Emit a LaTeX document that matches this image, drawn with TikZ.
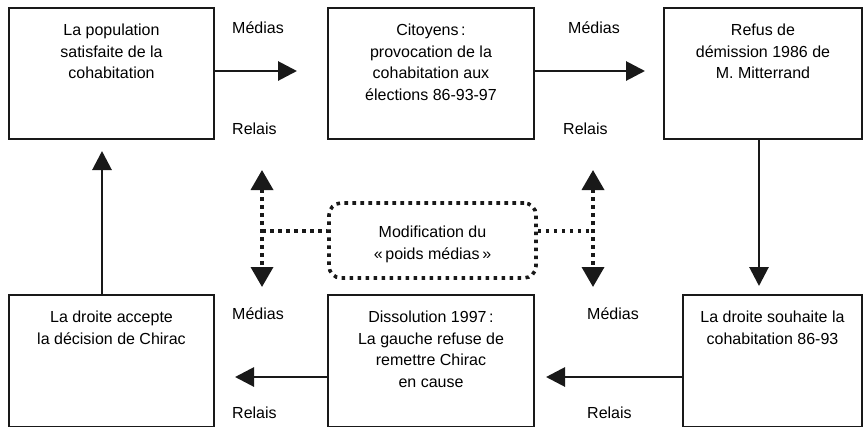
\documentclass[tikz,border=0pt]{standalone}
\usepackage{fontspec}
\setmainfont{Liberation Sans}
\usetikzlibrary{arrows.meta}
\tikzset{
  box/.style={draw=black!90, line width=2.9pt, rectangle, inner sep=0pt},
  boxtext/.style={anchor=north, align=center, inner sep=0pt, font=\fontsize{16}{21.5}\selectfont},
  lbl/.style={anchor=base west, inner sep=0pt, font=\fontsize{16}{19}\selectfont},
  arr/.style={line width=2.9pt, draw=black!90, -{Triangle[length=19pt,width=19pt]}},
  dotline/.style={line width=3.6pt, draw=black!90, dash pattern=on 3.6pt off 4.4pt},
  dotarr/.style={dotline, {Triangle[length=20pt,width=22pt]}-{Triangle[length=20pt,width=22pt]}, shorten <=0pt, shorten >=0pt}
}
\begin{document}
\begin{tikzpicture}[x=1pt,y=-1pt]
\useasboundingbox (0,0) rectangle (864,426);
% top row boxes
\node[box, minimum width=205pt, minimum height=131pt] (b1) at (111.5,73.5) {};
\node[box, minimum width=206pt, minimum height=131pt] (b2) at (431,73.5) {};
\node[box, minimum width=198pt, minimum height=131pt] (b3) at (763,73.5) {};
% bottom row boxes
\node[box, minimum width=205pt, minimum height=132pt] (b4) at (111.5,361) {};
\node[box, minimum width=206pt, minimum height=132pt] (b5) at (431,361) {};
\node[box, minimum width=179pt, minimum height=132pt] (b6) at (772.5,361) {};
% texts
\node[boxtext] (t1) at (111.5,24) {La population\\satisfaite de la\\cohabitation};
\node[boxtext] (t2) at (431,24) {Citoyens\,:\\provocation de la\\cohabitation aux\\élections 86-93-97};
\node[boxtext] (t3) at (763,24) {Refus de\\démission 1986 de\\M. Mitterrand};
\node[boxtext] (t4) at (111.5,311) {La droite accepte\\la décision de Chirac};
\node[boxtext] (t5) at (431,311) {Dissolution 1997\,:\\La gauche refuse de\\remettre Chirac\\en cause};
\node[boxtext] (t6) at (772.5,311) {La droite souhaite la\\cohabitation 86-93};
% labels
\node[lbl] (m1) at (232,33) {Médias};
\node[lbl] (r1) at (232,134) {Relais};
\node[lbl] (m2) at (568,33) {Médias};
\node[lbl] (r2) at (563,134) {Relais};
\node[lbl] (m3) at (232,319) {Médias};
\node[lbl] (r3) at (232,418) {Relais};
\node[lbl] (m4) at (587,319) {Médias};
\node[lbl] (r4) at (587,418) {Relais};
% arrow endpoints
\coordinate (e1) at (297,71);
\coordinate (e2) at (645,71);
\coordinate (e3) at (759,286);
\coordinate (e4) at (546,377);
\coordinate (e5) at (235,377);
\coordinate (e6) at (102,151);
\draw[arr] (b1.east |- e1) -- (e1);
\draw[arr] (b2.east |- e2) -- (e2);
\draw[arr] (b3.south -| e3) -- (e3);
\draw[arr] (b6.west |- e4) -- (e4);
\draw[arr] (b5.west |- e5) -- (e5);
\draw[arr] (b4.north -| e6) -- (e6);
% dotted box and arrows
\node[dotline, draw, rounded corners=12pt, minimum width=207pt, minimum height=75pt, inner sep=0pt] (mod) at (432.5,240.5) {};
\node[boxtext] (tm) at (432.5,226) {Modification du\\«\,poids médias\,»};
\coordinate (dl1) at (262,170);
\coordinate (dl2) at (262,287);
\coordinate (dr1) at (593,170);
\coordinate (dr2) at (593,287);
\draw[dotarr] (dl1) -- (dl2);
\draw[dotarr] (dr1) -- (dr2);
\coordinate (hl) at (262,231);
\coordinate (hr) at (593,231);
\draw[dotline] (hl) -- (mod.west |- hl);
\draw[dotline] (mod.east |- hr) -- (hr);
\end{tikzpicture}
\end{document}
